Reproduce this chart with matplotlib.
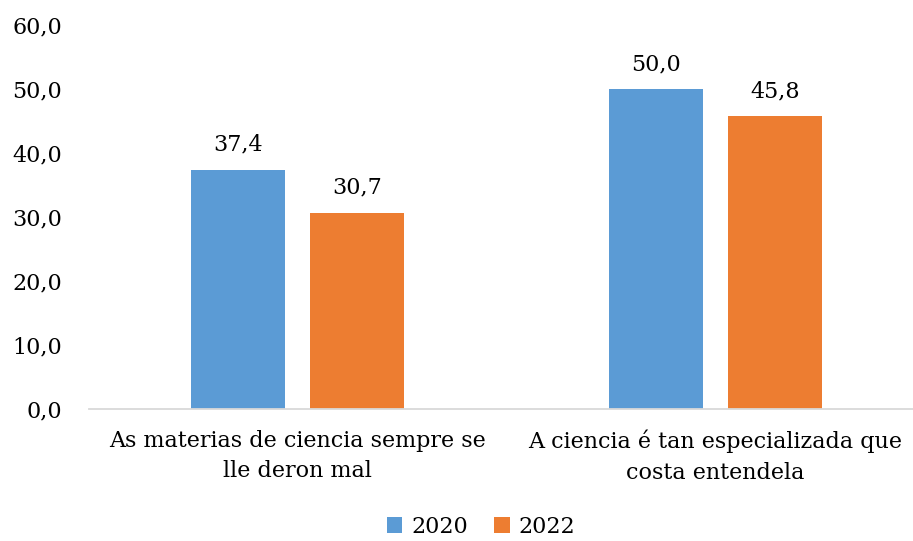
import matplotlib
matplotlib.use("Agg")
import matplotlib.pyplot as plt
import numpy as np

categories = ["As materias de ciencia sempre se\nlle deron mal",
              "A ciencia é tan especializada que\ncosta entendela"]
series_names = ["2020", "2022"]
values_2020 = [37.4, 50.0]
values_2022 = [30.7, 45.8]
colors = ["#5B9BD5", "#ED7D31"]
yticks = [0, 10, 20, 30, 40, 50, 60]

plt.rcParams['font.family'] = ['DejaVu Serif']

FS = 16
fig = plt.figure(figsize=(9.13, 5.41), dpi=100)
ax = fig.add_axes([88.5/913, 1-409/541, 836/913, 384/541])

x = np.arange(len(categories))
w = 0.225
gap = 0.06
off = (w + gap) / 2
b1 = ax.bar(x - off, values_2020, w, color=colors[0], label=series_names[0])
b2 = ax.bar(x + off, values_2022, w, color=colors[1], label=series_names[1])

for bars, vals in ((b1, values_2020), (b2, values_2022)):
    for r, v in zip(bars, vals):
        ax.annotate(f"{v:.1f}".replace(".", ","), (r.get_x() + r.get_width()/2, v),
                    xytext=(0, 10), textcoords="offset points",
                    ha="center", va="bottom", fontsize=FS, color="#000000")

ax.set_xlim(-0.5, 1.5)
ax.set_ylim(0, 60)
ax.set_yticks(yticks)
ax.set_yticklabels([f"{t:.1f}".replace(".", ",") for t in yticks], fontsize=FS)
ax.set_xticks(x)
ax.set_xticklabels(categories, fontsize=FS, linespacing=1.5)
ax.tick_params(axis='both', length=0)
ax.tick_params(axis='y', pad=19)
ax.tick_params(axis='x', pad=15)
for s in ["top", "right", "left"]:
    ax.spines[s].set_visible(False)
ax.spines["bottom"].set_color("#D9D9D9")
ax.spines["bottom"].set_linewidth(1.3)

fig.legend(handles=[b1, b2], labels=series_names, loc="center", bbox_to_anchor=(481/913, 1-527/541),
           ncol=2, frameon=False, fontsize=FS, handlelength=0.7, handleheight=0.7,
           handletextpad=0.4, columnspacing=1.2)

fig.savefig("out.png", dpi=100)
